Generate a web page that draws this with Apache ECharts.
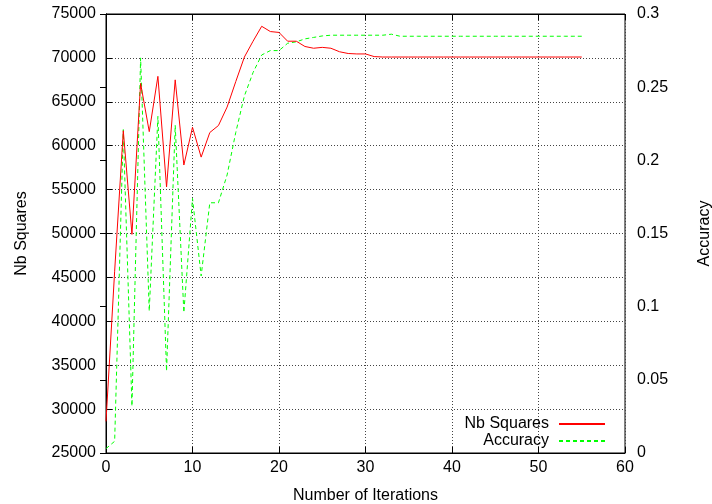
<!DOCTYPE html>
<html>
<head>
<meta charset="utf-8">
<script src="https://cdn.jsdelivr.net/npm/echarts@6/dist/echarts.min.js"></script>
<style>
  html, body { margin: 0; padding: 0; background: #fff; }
  #chart { width: 712px; height: 504px; }
</style>
</head>
<body>
<div id="chart"></div>
<script>
  var nbSquares = [28600, 45700, 61700, 49900, 67100, 61600, 67900, 55300, 67500, 57800,
    62100, 58700, 61500, 62300, 64400, 67300, 70100, 71900, 73600, 73000,
    72900, 71900, 71900, 71300, 71100, 71200, 71100, 70700, 70500, 70450,
    70450, 70150, 70100, 70100, 70100, 70100, 70100, 70100, 70100, 70100,
    70100, 70100, 70100, 70100, 70100, 70100, 70100, 70100, 70100, 70100,
    70100, 70100, 70100, 70100, 70100, 70100];
  var accuracy = [0.003, 0.008, 0.221, 0.032, 0.270, 0.097, 0.230, 0.056, 0.224, 0.096,
    0.174, 0.121, 0.171, 0.171, 0.190, 0.219, 0.244, 0.260, 0.272, 0.275,
    0.275, 0.280, 0.281, 0.283, 0.284, 0.285, 0.2855, 0.2855, 0.2855, 0.2855,
    0.2855, 0.2855, 0.2855, 0.2862, 0.2848, 0.2848, 0.2848, 0.2848, 0.2848, 0.2848,
    0.2848, 0.2848, 0.2848, 0.2848, 0.2848, 0.2848, 0.2848, 0.2848, 0.2848, 0.2848,
    0.2848, 0.2848, 0.2848, 0.2848, 0.2848, 0.2848];

  var font = 'Liberation Sans';
  var txt = { fontFamily: font, fontSize: 16, color: '#000' };

  var chart = echarts.init(document.getElementById('chart'));
  chart.setOption({
    animation: false,
    grid: {
      left: 106, right: 87, top: 14, bottom: 51,
      outerBoundsMode: 'none',
      show: true, borderColor: '#000', borderWidth: 1, backgroundColor: 'transparent'
    },
    legend: {
      orient: 'vertical',
      right: 106,
      top: 416,
      padding: 0,
      align: 'right',
      itemWidth: 46,
      itemHeight: 12,
      itemGap: 1,
      itemStyle: { opacity: 0 },
      textStyle: { fontFamily: font, fontSize: 16, color: '#000', width: 90, align: 'right',
        lineHeight: 16, padding: [0, 5, 0, 0] },
      data: ['Nb Squares', 'Accuracy']
    },
    xAxis: [{
      type: 'value',
      min: 0, max: 60, interval: 10,
      name: 'Number of Iterations',
      nameLocation: 'middle',
      nameGap: 35,
      nameTextStyle: txt,
      axisLine: { lineStyle: { color: '#000' } },
      axisTick: { inside: true, length: 6, lineStyle: { color: '#000' } },
      axisLabel: { fontFamily: font, fontSize: 16, color: '#000', margin: 7 },
      splitLine: { show: true, lineStyle: { color: '#444', type: [1, 2] } }
    }, {
      type: 'value',
      position: 'top',
      min: 0, max: 60, interval: 10,
      axisLine: { lineStyle: { color: '#000' } },
      axisTick: { inside: true, length: 6, lineStyle: { color: '#000' } },
      axisLabel: { show: false },
      splitLine: { show: false }
    }],
    yAxis: [{
      type: 'value',
      min: 25000, max: 75000, interval: 5000,
      name: 'Nb Squares',
      nameLocation: 'middle',
      nameGap: 76,
      nameTextStyle: txt,
      axisLine: { show: true, lineStyle: { color: '#000' } },
      axisTick: { show: true, inside: true, length: 6, lineStyle: { color: '#000' } },
      axisLabel: { fontFamily: font, fontSize: 16, color: '#000', margin: 10,
        formatter: function (v) { return String(v); } },
      splitLine: { show: true, lineStyle: { color: '#444', type: [1, 2] } }
    }, {
      type: 'value',
      min: 0, max: 0.3, interval: 0.05,
      name: 'Accuracy',
      nameLocation: 'middle',
      nameGap: 72,
      nameTextStyle: txt,
      axisLine: { show: true, lineStyle: { color: '#000' } },
      axisTick: { show: true, inside: true, length: 6, lineStyle: { color: '#000' } },
      axisLabel: { fontFamily: font, fontSize: 16, color: '#000', margin: 12 },
      splitLine: { show: false }
    }],
    series: [{
      name: 'Nb Squares',
      type: 'line',
      xAxisIndex: 0,
      yAxisIndex: 0,
      symbol: 'none',
      z: 5,
      lineStyle: { color: '#ff0000', width: 1 },
      itemStyle: { color: '#ff0000' },
      data: nbSquares.map(function (v, i) { return [i, v]; })
    }, {
      name: 'Accuracy',
      type: 'line',
      xAxisIndex: 0,
      yAxisIndex: 1,
      symbol: 'none',
      lineStyle: { color: '#00ff00', width: 1, type: [4, 3] },
      itemStyle: { color: '#00ff00' },
      data: accuracy.map(function (v, i) { return [i, v]; })
    }]
  });
</script>
</body>
</html>
